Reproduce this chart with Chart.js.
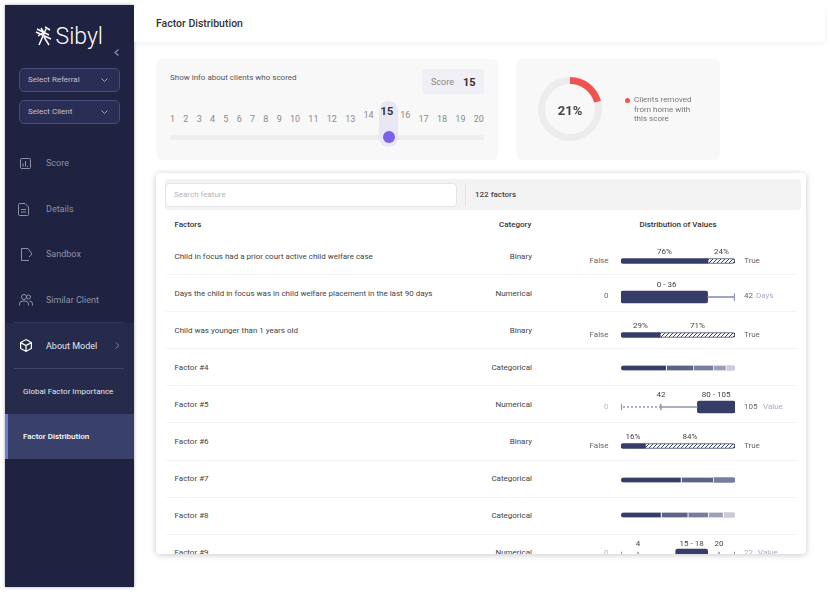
<!DOCTYPE html>
<html>
<head>
<meta charset="utf-8">
<title>Factor Distribution</title>
<script src="https://cdn.jsdelivr.net/npm/chart.js@4"></script>
<style>
  html, body { margin: 0; padding: 0; background: #fff; }
  body { width: 830px; height: 594px; position: relative; overflow: hidden; font-family: Roboto, sans-serif; color: #444; }
  .abs, .t { position: absolute; }
  .t { white-space: nowrap; transform: translateY(-50%); line-height: 1; }
  .r { transform: translate(-100%, -50%); }
  .c { transform: translate(-50%, -50%); }
  #sidebar { left: 5px; top: 5px; width: 129px; height: 582px; background: #1f2240; box-shadow: 0 0 3px rgba(0,0,0,.35); }
  #header { left: 134px; top: 5px; width: 691px; height: 37px; background: #fff; box-shadow: 0 2px 5px rgba(0,0,0,.06); }
  .panel { background: #f8f8f8; border-radius: 6px; }
  .select { left: 18.5px; width: 99.5px; height: 21.5px; background: #2a2e54; border: 1px solid #474c78; border-radius: 5px; }
  #card { left: 156px; top: 173px; width: 650px; height: 381px; background: #fff; border-radius: 4px; box-shadow: 0 1px 6px rgba(0,0,0,.22); }
  #tableClip { left: 156px; top: 173px; width: 650px; height: 381px; overflow: hidden; border-radius: 4px; }
  .rowline { left: 10px; width: 630px; height: 1px; background: #f4f4f6; }
  #scale { left: 170px; top: 112px; width: 314px; display: flex; justify-content: space-between; font-size: 9px; color: #8a8a8a; }
  #scale span { line-height: 14px; }
  svg { position: absolute; overflow: visible; fill: none; }
</style>
</head>
<body>
<div class="abs" id="sidebar"></div>
<div class="abs" style="left:5px;top:323px;width:129px;height:91px;background:#272b4b"></div>
<div class="abs" style="left:5px;top:414px;width:129px;height:45px;background:#394069"></div>
<div class="abs" style="left:5px;top:414px;width:2.5px;height:45px;background:#6a7bdc"></div>
<div class="abs" style="left:14px;top:322px;width:110px;height:1px;background:#33375a"></div>
<div class="abs" style="left:14px;top:368px;width:110px;height:1px;background:#41456a"></div>

<svg style="left:35px;top:26px" width="17" height="20" viewBox="0 0 17 20" stroke="#fff" stroke-width="1.5">
  <path d="M1 6 L16 13 M2 3 L14 9 M11 3 L4 19 M9 11 L14 19 M3 10 L9 6 M10 1 L15 4 M6 2 L9 7"/>
</svg>
<div class="t" style="left:55.5px;top:36px;font-size:23px;font-weight:300;color:#fff">Sibyl</div>
<svg style="left:114px;top:49px" width="6" height="7" stroke="#8d90a8" stroke-width="1.2"><path d="M4.5 .5 L1 3.5 L4.5 6.5"/></svg>

<div class="abs select" style="top:68px"></div>
<div class="abs select" style="top:100px"></div>
<div class="t" style="left:28px;top:80px;font-size:8px;color:#c0c2d0">Select Referral</div>
<div class="t" style="left:28px;top:112px;font-size:8px;color:#c0c2d0">Select Client</div>
<svg style="left:101px;top:78px" width="7" height="4" stroke="#9ea1b8"><path d="M.5 .5 L3.5 3.5 L6.5 .5"/></svg>
<svg style="left:101px;top:110px" width="7" height="4" stroke="#9ea1b8"><path d="M.5 .5 L3.5 3.5 L6.5 .5"/></svg>

<svg style="left:20px;top:158px" width="11" height="11" stroke="#8f92a6"><rect x=".5" y=".5" width="10" height="10" rx="1"/><path d="M3 8.5V5.5 M5.5 8.5V3 M8 8.5H7"/></svg>
<svg style="left:18px;top:203px" width="11" height="13" stroke="#8f92a6"><path d="M.5 1.5 Q.5 .5 1.5 .5 H7 L10.5 4 V11.5 Q10.5 12.5 9.5 12.5 H1.5 Q.5 12.5 .5 11.5 Z M3 6.5H8 M3 9H8"/></svg>
<svg style="left:21px;top:248px" width="12" height="13" stroke="#8f92a6"><path d="M8 12.5 H.5 V.5 H7 L11 6 L8 9"/></svg>
<svg style="left:19px;top:294px" width="14" height="12" stroke="#8f92a6"><circle cx="5" cy="3" r="2.5"/><circle cx="9.5" cy="3" r="2"/><path d="M.5 11.5 V10 Q.5 7 4 7 H6 Q9.5 7 9.5 10 V11.5 M10.5 7 Q13.5 7 13.5 10 V11.5"/></svg>
<svg style="left:20px;top:339px" width="12" height="13" stroke="#fff" stroke-width="1.2"><path d="M6 .6 L11.4 3.6 V9.4 L6 12.4 L.6 9.4 V3.6 Z M.6 3.6 L6 6.5 L11.4 3.6 M6 6.5 V12.4"/></svg>
<svg style="left:115px;top:342px" width="5" height="7" stroke="#767a95"><path d="M.5 .5 L4 3.5 L.5 6.5"/></svg>

<div class="t" style="left:46px;top:163px;font-size:9px;color:#8f92a6">Score</div>
<div class="t" style="left:46px;top:209px;font-size:9px;color:#8f92a6">Details</div>
<div class="t" style="left:46px;top:254px;font-size:9px;color:#8f92a6">Sandbox</div>
<div class="t" style="left:46px;top:300px;font-size:9px;color:#8f92a6">Similar Client</div>
<div class="t" style="left:46px;top:345.5px;font-size:9px;color:#e4e5ee">About Model</div>
<div class="t" style="left:23px;top:391.5px;font-size:8px;color:#e4e5ee">Global Factor Importance</div>
<div class="t" style="left:23px;top:437px;font-size:8px;font-weight:500;color:#fff">Factor Distribution</div>

<div class="abs" id="header"></div>
<div class="t" style="left:156px;top:23.5px;font-size:10.5px;font-weight:500;color:#333">Factor Distribution</div>

<div class="abs panel" style="left:156px;top:59px;width:342px;height:101px"></div>
<div class="t" style="left:170px;top:78px;font-size:8px;color:#555">Show info about clients who scored</div>
<div class="abs" style="left:422px;top:69px;width:62px;height:25px;background:#f0eff6;border-radius:4px"></div>
<div class="t" style="left:431px;top:82px;font-size:9px;color:#888">Score</div>
<div class="t" style="left:463px;top:82px;font-size:11px;font-weight:700;color:#333">15</div>
<div class="abs" style="left:170px;top:135px;width:314px;height:4.5px;background:#eeeeee;border-radius:3px"></div>
<div class="abs" style="left:379px;top:101px;width:19px;height:46px;background:#e9e7f5;border-radius:10px"></div>
<div class="abs" style="left:382.5px;top:131px;width:12px;height:12px;background:#7b61e8;border-radius:50%"></div>
<div class="abs" id="scale"></div>

<div class="abs panel" style="left:516px;top:59px;width:204px;height:101px"></div>
<div class="abs" style="left:536px;top:75px;width:68px;height:68px"><canvas id="donut" width="68" height="68"></canvas></div>
<div class="t c" style="left:570px;top:109.5px;font-size:13px;font-weight:700;color:#444" id="donutLabel"></div>
<div class="abs" style="left:624.5px;top:97.5px;width:5px;height:5px;background:#ef5350;border-radius:50%"></div>
<div class="t" style="left:634px;top:100px;font-size:8px;color:#777">Clients removed</div>
<div class="t" style="left:634px;top:110px;font-size:8px;color:#777">from home with</div>
<div class="t" style="left:634px;top:119px;font-size:8px;color:#777">this score</div>

<div class="abs" id="card"></div>
<div class="abs" id="tableClip"></div>

<script>
var scoreTicks = [1,2,3,4,5,6,7,8,9,10,11,12,13,14,15,16,17,18,19,20]
var selectedScore = 15
var removedShare = [21, 79]

var factorNames = [
  'Child in focus had a prior court active child welfare case',
  'Days the child in focus was in child welfare placement in the last 90 days',
  'Child was younger than 1 years old',
  'Factor #4', 'Factor #5', 'Factor #6', 'Factor #7', 'Factor #8', 'Factor #9'
]
var factorCategories = ['Binary','Numerical','Binary','Categorical','Numerical','Binary','Categorical','Categorical','Numerical']

// bar lengths as drawn in the picture (share of the track), the printed labels are kept apart
var row1Bars = [76, 24]
var row1Labels = ['76%', '24%']
var row2Box = [0, 76]
var row2Labels = ['0 - 36']
var row3Bars = [34, 66]
var row3Labels = ['29%', '71%']
var row4Bars = [40, 24, 17.5, 11, 7.5]
var row5Box = [67, 100]
var row5Median = [35]
var row5Labels = ['42', '80 - 105']
var row6Bars = [21, 79]
var row6Labels = ['16%', '84%']
var row7Bars = [53, 28.5, 18.5]
var row8Bars = [35.5, 23.5, 18, 13, 10]
var row9Box = [48, 76]
var row9Marks = [15, 86]
var row9Labels = ['4', '15 - 18', '20']

var navy = '#363d69'
var catColors = ['#363d69', '#5d6385', '#787d9b', '#9c9fb9', '#cbccd8']
var whisker = '#8f93b3'
var gray = '#666'

function text(parent, str, x, y, css, cls) {
  var d = document.createElement('div')
  d.className = 't ' + (cls || '')
  d.style.cssText = 'left:' + x + 'px;top:' + y + 'px;' + css
  d.textContent = str
  parent.appendChild(d)
  return d
}

// slider numbers
var scale = document.getElementById('scale')
scoreTicks.forEach(function(n) {
  var s = document.createElement('span')
  s.textContent = n
  if (n == selectedScore) {
    // same box width as a normal two digit number so the spacing stays even
    s.style.cssText = 'display:flex;justify-content:center;flex:none;width:10px;font-size:11px;font-weight:700;color:#333;transform:translateY(-7px)'
  } else if (Math.abs(n - selectedScore) == 1) {
    s.style.transform = 'translateY(-4px)'
  }
  scale.appendChild(s)
})

// donut
document.getElementById('donutLabel').textContent = removedShare[0] + '%'
new Chart(document.getElementById('donut'), {
  type: 'doughnut',
  data: { labels: ['Removed', 'Other'], datasets: [{ data: removedShare, backgroundColor: ['#ef5350', '#ececec'], borderWidth: 0 }] },
  options: {
    responsive: false, animation: false, cutout: '78%',
    layout: { padding: 2 },
    plugins: { legend: { display: false }, tooltip: { enabled: false } }
  }
})

// hatch fill for the "True" part of the binary bars
function hatch() {
  var c = document.createElement('canvas')
  c.width = 4; c.height = 4
  var g = c.getContext('2d')
  g.fillStyle = '#fff'; g.fillRect(0, 0, 4, 4)
  g.strokeStyle = navy; g.lineWidth = 1
  g.beginPath(); g.moveTo(-1, 5); g.lineTo(5, -1); g.moveTo(-1, 1); g.lineTo(1, -1); g.moveTo(3, 5); g.lineTo(5, 3); g.stroke()
  return g.createPattern(c, 'repeat')
}
function dashes() {
  var c = document.createElement('canvas')
  c.width = 4; c.height = 1
  var g = c.getContext('2d')
  g.fillStyle = '#8f93b3'; g.fillRect(0, 0, 2, 1)
  return g.createPattern(c, 'repeat')
}

// prints a label above each bar part, centred through the x scale
var topLabels = {
  id: 'topLabels',
  afterDraw: function(chart, args, opts) {
    var x = chart.scales.x, g = chart.ctx
    g.save()
    g.font = '8px Roboto'
    g.fillStyle = '#444'
    g.textAlign = 'center'
    g.textBaseline = 'middle'
    ;(opts.items || []).forEach(function(it) {
      g.fillText(it.text, x.getPixelForValue(it.at), chart.height / 2 - opts.lift)
    })
    g.restore()
  }
}

function mini(rowIndex, barCenter, datasets, items, lift, stacked) {
  var c = document.createElement('canvas')
  c.width = 118; c.height = 40
  c.style.cssText = 'position:absolute;left:' + (618.5 - 156) + 'px;top:' + (barCenter - 173 - 20) + 'px'
  document.getElementById('tableClip').appendChild(c)
  new Chart(c, {
    type: 'bar',
    data: { labels: [factorNames[rowIndex]], datasets: datasets },
    options: {
      indexAxis: 'y', responsive: false, animation: false,
      layout: { padding: { left: 2, right: 2 } },
      datasets: { bar: { grouped: false, borderSkipped: false } },
      scales: {
        x: { display: false, min: 0, max: 100, stacked: stacked },
        y: { display: false, stacked: stacked }
      },
      plugins: { legend: { display: false }, tooltip: { enabled: false }, topLabels: { items: items, lift: lift } }
    },
    plugins: [topLabels]
  })
}

function binary(rowIndex, center, bars, labels) {
  mini(rowIndex, center, [
    { data: [bars[0]], backgroundColor: navy, barThickness: 5, borderRadius: { topLeft: 3, bottomLeft: 3 } },
    { data: [bars[1]], backgroundColor: hatch(), borderColor: navy, borderWidth: 1, barThickness: 5, borderRadius: { topRight: 3, bottomRight: 3 } }
  ], [
    { text: labels[0], at: bars[0] / 2 },
    { text: labels[1], at: bars[0] + bars[1] / 2 }
  ], 9, true)
}

function categorical(rowIndex, center, bars) {
  var sets = bars.map(function(v, i) {
    var last = i == bars.length - 1
    return {
      data: [v], backgroundColor: catColors[i], barThickness: 5,
      borderColor: '#fff', borderWidth: last ? 0 : { right: 1 },
      borderRadius: i == 0 ? { topLeft: 3, bottomLeft: 3 } : last ? { topRight: 3, bottomRight: 3 } : 0
    }
  })
  mini(rowIndex, center, sets, [], 9, true)
}

function tick(v, h, color) {
  return { data: [[v - 0.35, v + 0.35]], backgroundColor: color || whisker, barThickness: h }
}
function span(a, b, fill) {
  return { data: [[a, b]], backgroundColor: fill || whisker, barThickness: 1 }
}
function box(b) {
  return { data: [b], backgroundColor: navy, barThickness: 12, borderRadius: 2 }
}

// table skeleton: offsets below are relative to the card
var tbl = document.getElementById('tableClip')
var o = { x: 156, y: 173 }
var head = document.createElement('div')
head.className = 'abs'
head.style.cssText = 'left:9px;top:6px;width:636px;height:31px;background:#f3f3f4;border-radius:3px'
tbl.appendChild(head)
var input = document.createElement('div')
input.className = 'abs'
input.style.cssText = 'left:9px;top:10px;width:290px;height:22px;background:#fff;border:1px solid #e4e4e8;border-radius:4px'
tbl.appendChild(input)
var sep = document.createElement('div')
sep.className = 'abs'
sep.style.cssText = 'left:309px;top:10px;width:1px;height:23px;background:#e4e4e8'
tbl.appendChild(sep)
text(tbl, 'Search feature', 174 - o.x, 195 - o.y, 'font-size:8px;color:#b5b5ba')
text(tbl, '122 factors', 475 - o.x, 195 - o.y, 'font-size:8px;font-weight:500;color:#444')
text(tbl, 'Factors', 174.5 - o.x, 224.5 - o.y, 'font-size:8px;font-weight:500;color:#333')
text(tbl, 'Category', 499 - o.x, 224.5 - o.y, 'font-size:8px;font-weight:500;color:#333')
text(tbl, 'Distribution of Values', 678 - o.x, 224.5 - o.y, 'font-size:8px;font-weight:500;color:#333', 'c')

factorNames.forEach(function(name, i) {
  var y = 257 + i * 37 - o.y
  text(tbl, name, 174.5 - o.x, y, 'font-size:8px;color:#444')
  text(tbl, factorCategories[i], 532 - o.x, y, 'font-size:8px;color:#444', 'r')
  var line = document.createElement('div')
  line.className = 'abs rowline'
  line.style.top = (274 + i * 37.1 - o.y) + 'px'
  if (i < 8) tbl.appendChild(line)
})

// side labels of each distribution
var sideText = 'font-size:8px;color:' + gray
function ends(center, left, right, rightUnit, leftLight) {
  text(tbl, left, 608.5 - o.x, center - o.y, 'font-size:8px;color:' + (leftLight ? '#b8b8c0' : gray), 'r')
  text(tbl, right, 744 - o.x, center - o.y, sideText)
  if (rightUnit) text(tbl, rightUnit.t, rightUnit.x - o.x, center - o.y, 'font-size:8px;color:#a9abc4')
}

binary(0, 261, row1Bars, row1Labels)
ends(261, 'False', 'True')

mini(1, 296.5, [
  span(row2Box[1], 100), tick(99.6, 7), box(row2Box)
], [{ text: row2Labels[0], at: 40 }], 12.5, false)
ends(296, '0', '42', { t: 'Days', x: 756 })

binary(2, 335, row3Bars, row3Labels)
ends(335, 'False', 'True')

categorical(3, 367.5, row4Bars)

mini(4, 407, [
  span(0.3, row5Median[0], dashes()), span(row5Median[0], row5Box[0]),
  tick(0.3, 6), tick(row5Median[0], 6), box(row5Box)
], [
  { text: row5Labels[0], at: row5Median[0] },
  { text: row5Labels[1], at: (row5Box[0] + row5Box[1]) / 2 }
], 12, false)
ends(406.5, '0', '105', { t: 'Value', x: 763 }, true)

binary(5, 445.5, row6Bars, row6Labels)
ends(445.5, 'False', 'True')

categorical(6, 480, row7Bars)
categorical(7, 515, row8Bars)

mini(8, 554.5, [
  span(0.3, row9Marks[0]), span(row9Box[1], 99.7),
  tick(0.3, 6), tick(row9Marks[0], 6), tick(row9Marks[1], 6), tick(99.7, 6), box(row9Box)
], [
  { text: row9Labels[0], at: row9Marks[0] },
  { text: row9Labels[1], at: (row9Box[0] + row9Box[1]) / 2 },
  { text: row9Labels[2], at: row9Marks[1] }
], 11, false)
text(tbl, '0', 608.5 - o.x, 553 - o.y, 'font-size:8px;color:#b8b8c0', 'r')
text(tbl, '22', 744 - o.x, 553 - o.y, 'font-size:8px;color:#a9abc4')
text(tbl, 'Value', 758 - o.x, 553 - o.y, 'font-size:8px;color:#a9abc4')
</script>
</body>
</html>
